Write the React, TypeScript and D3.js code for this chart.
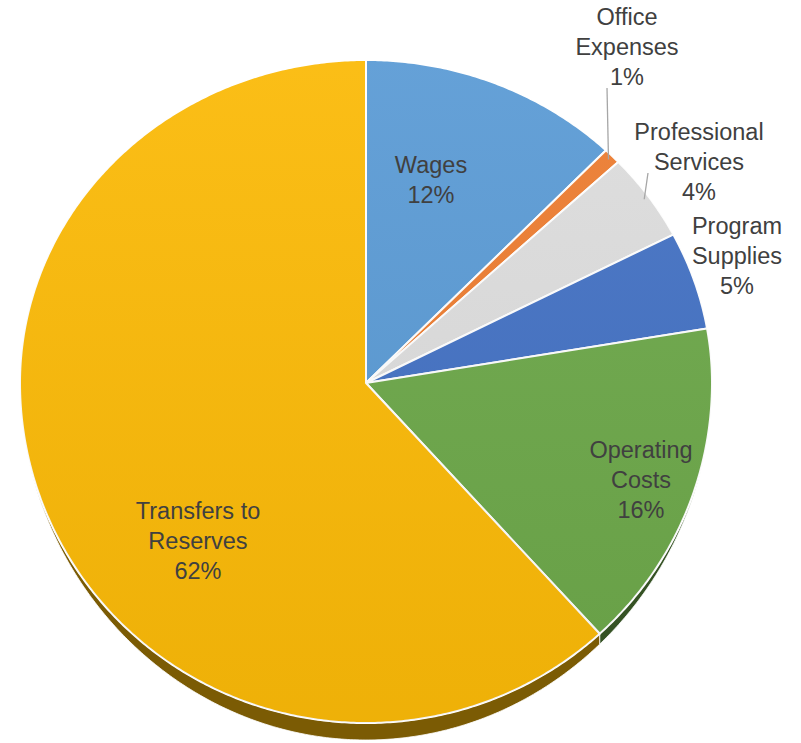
import React from "react";
import * as d3 from "d3";

const categories = [
  "Wages",
  "Office Expenses",
  "Professional Services",
  "Program Supplies",
  "Operating Costs",
  "Transfers to Reserves",
];
const values = [12.2, 0.8, 4.4, 4.9, 15.9, 61.8];
const labelLines = [
  ["Wages"],
  ["Office", "Expenses"],
  ["Professional", "Services"],
  ["Program", "Supplies"],
  ["Operating", "Costs"],
  ["Transfers to", "Reserves"],
];
const colors = ["#5B9BD5", "#ED7D31", "#DDDDDD", "#4472C4", "#6DA84A", "#FBBA08"];

// layout (not data)
const W = 801;
const H = 743;
const CX = 366;
const CY = 383;
const RX = 346;
const RYT = 323;
const RYB = 340;
const DEPTH = 17;
const LINE_H = 30;
const labelAnchor: [number, number][] = [
  [431, 173],
  [627, 25],
  [699, 140],
  [737, 234],
  [641, 458],
  [198, 519],
];
const leaderEnd: ([number, number] | null)[] = [null, [607, 88], [648, 173], null, null, null];

function P(a: number, r = 1): [number, number] {
  const c = Math.cos(a);
  const ry = c >= 0 ? RYT : RYB;
  return [CX + r * RX * Math.sin(a), CY - r * c * ry];
}

function arcPoints(a0: number, a1: number): [number, number][] {
  const n = Math.max(2, Math.ceil(((a1 - a0) * 180) / Math.PI / 0.5));
  const pts: [number, number][] = [];
  for (let i = 0; i <= n; i++) pts.push(P(a0 + ((a1 - a0) * i) / n));
  return pts;
}

function depthAt(a: number) {
  const c = -Math.cos(a);
  return c > 0 ? DEPTH * Math.pow(c, 1.6) : 0;
}

const line = d3.line<[number, number]>();

export default function App() {
  const pie = d3
    .pie<number>()
    .sort(null)
    .value((d) => d)
    .startAngle(0)
    .endAngle(2 * Math.PI);
  const arcs = pie(values);
  const total = d3.sum(values);
  const fmt = d3.format(".0%");

  const walls = arcs.map((d, i) => {
    const a0 = Math.max(d.startAngle, Math.PI / 2);
    const a1 = Math.min(d.endAngle, (3 * Math.PI) / 2);
    if (a1 <= a0) return null;
    const top = arcPoints(a0, a1);
    const n = top.length - 1;
    const bottom = top
      .map((p, k) => {
        const a = a0 + ((a1 - a0) * k) / n;
        return [p[0], p[1] + depthAt(a)] as [number, number];
      })
      .reverse();
    const c = d3.color(colors[i])!.darker(2).formatHex();
    return (
      <path
        key={"w" + i}
        d={line([...top, ...bottom])! + "Z"}
        fill={c}
        stroke="#ffffff"
        strokeWidth={0.8}
      />
    );
  });

  const faces = arcs.map((d, i) => {
    const pts = [[CX, CY] as [number, number], ...arcPoints(d.startAngle, d.endAngle)];
    return (
      <path
        key={"f" + i}
        d={line(pts)! + "Z"}
        fill={colors[i]}
        stroke="#ffffff"
        strokeWidth={2}
        strokeLinejoin="round"
      />
    );
  });

  const leaders = arcs.map((d, i) => {
    const e = leaderEnd[i];
    if (!e) return null;
    const mid = (d.startAngle + d.endAngle) / 2;
    const s = P(mid, 0.985);
    return (
      <line
        key={"l" + i}
        x1={s[0]}
        y1={s[1]}
        x2={e[0]}
        y2={e[1]}
        stroke="#A6A6A6"
        strokeWidth={1.3}
      />
    );
  });

  const labels = arcs.map((d, i) => {
    const [x, y] = labelAnchor[i];
    const lines = [...labelLines[i], fmt(values[i] / total)];
    return (
      <text
        key={"t" + i}
        x={x}
        y={y}
        textAnchor="middle"
        fontFamily="'Liberation Sans', Arial, sans-serif"
        fontSize={23.5}
        fill="#404040"
      >
        {lines.map((s, k) => (
          <tspan key={k} x={x} y={y + k * LINE_H}>
            {s}
          </tspan>
        ))}
      </text>
    );
  });

  const ellipsePts = arcPoints(0, 2 * Math.PI);

  return (
    <svg
      width={W}
      height={H}
      viewBox={`0 0 ${W} ${H}`}
      style={{ position: "absolute", left: 0, top: 0, background: "#ffffff" }}
    >
      <defs>
        <linearGradient id="shade" x1="0" y1="0" x2="0" y2="1">
          <stop offset="0" stopColor="#ffffff" stopOpacity={0.06} />
          <stop offset="1" stopColor="#000000" stopOpacity={0.05} />
        </linearGradient>
      </defs>
      <g>{walls}</g>
      <g>{faces}</g>
      <path d={line(ellipsePts)! + "Z"} fill="url(#shade)" pointerEvents="none" />
      <g>{leaders}</g>
      <g>{labels}</g>
    </svg>
  );
}
